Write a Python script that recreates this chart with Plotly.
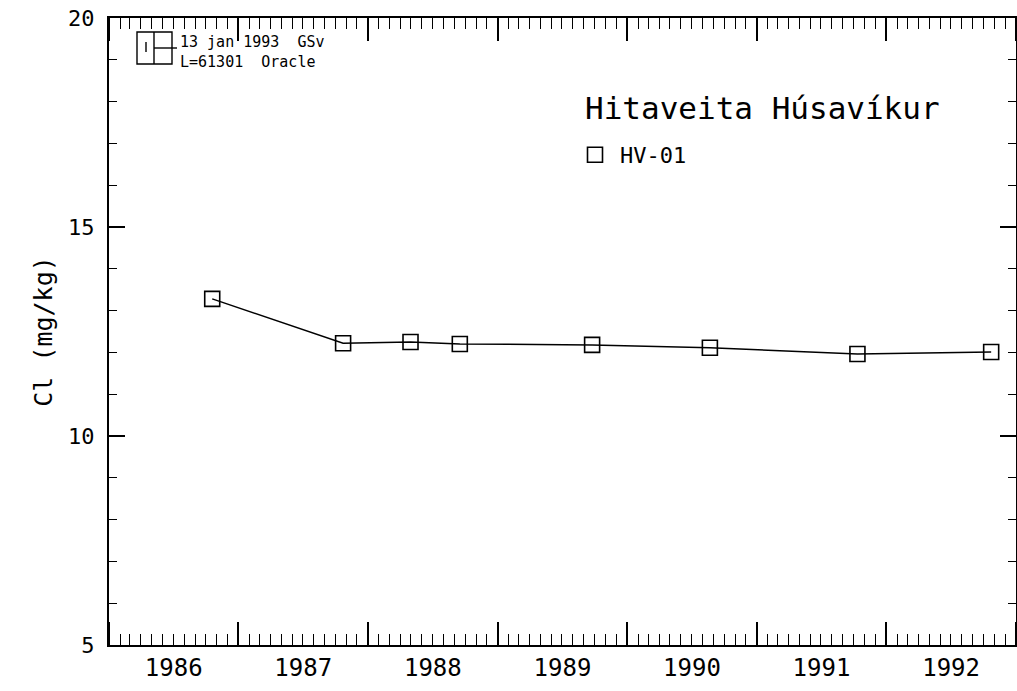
import plotly.graph_objects as go

# Data
sample_dates = ["1986-10-19", "1987-10-23", "1988-04-30", "1988-09-16",
                "1989-09-24", "1990-08-22", "1991-10-12", "1992-10-23"]
cl_values = [13.28, 12.22, 12.25, 12.20, 12.18, 12.11, 11.96, 12.01]
series_name = "HV-01"
plot_title = "Hitaveita Húsavíkur"
y_title = "Cl (mg/kg)"
stamp_line1 = "13 jan 1993  GSv"
stamp_line2 = "L=61301  Oracle"

FONT = "DejaVu Sans Mono"
L, R, T, B = 109, 1016, 18, 645
W, H = 1017, 691

fig = go.Figure()
fig.add_trace(go.Scatter(
    x=sample_dates, y=cl_values, mode="lines",
    line=dict(color="black", width=1.5), showlegend=False, hoverinfo="skip"))
fig.add_trace(go.Scatter(
    x=sample_dates, y=cl_values, mode="markers", name=series_name,
    marker=dict(symbol="square-open", size=15, color="black",
                line=dict(color="black", width=1.6)),
    showlegend=True))

fig.update_layout(
    width=W, height=H,
    margin=dict(l=L, r=W - R, t=T, b=H - B),
    paper_bgcolor="white", plot_bgcolor="white",
    font=dict(family=FONT, color="black", size=22),
    showlegend=True,
    legend=dict(x=(570 - L) / (R - L), y=(B - 155) / (B - T),
                xanchor="left", yanchor="middle",
                bgcolor="rgba(0,0,0,0)", font=dict(size=22, family=FONT),
                itemwidth=40, tracegroupgap=0),
    xaxis=dict(
        type="date", range=["1986-01-01", "1993-01-01"],
        dtick="M12", tickformat="%Y", ticklabelmode="period",
        ticks="inside", ticklen=23, tickwidth=1.5, tickcolor="black",
        showline=True, linecolor="black", linewidth=2, mirror="allticks",
        showgrid=False, zeroline=False, automargin=False,
        tickfont=dict(size=24, family=FONT),
        minor=dict(dtick="M1", ticks="inside", ticklen=11, tickwidth=1.3,
                   tickcolor="black", showgrid=False),
    ),
    yaxis=dict(
        range=[5, 20], dtick=5, tick0=0,
        ticks="inside", ticklen=16, tickwidth=1.5, tickcolor="black",
        showline=True, linecolor="black", linewidth=2, mirror="allticks",
        showgrid=False, zeroline=False, automargin=False,
        tickfont=dict(size=22, family=FONT),
        ticklabelstandoff=8,
        title=dict(text=y_title, font=dict(size=25, family=FONT), standoff=8),
        minor=dict(dtick=1, ticks="inside", ticklen=8, tickwidth=1.3,
                   tickcolor="black", showgrid=False),
    ),
)


def px(xp):
    return (xp - L) / (R - L)


def py(yp):
    return (B - yp) / (B - T)


fig.add_annotation(
    text=plot_title, xref="paper", yref="paper",
    x=px(583), y=py(108), xanchor="left", yanchor="middle",
    showarrow=False, font=dict(size=31, family=FONT, color="black"))

fig.add_annotation(
    text=stamp_line1 + "<br>" + stamp_line2, xref="paper", yref="paper",
    x=px(178), y=py(52), xanchor="left", yanchor="middle",
    align="left", showarrow=False,
    font=dict(size=15, family=FONT, color="black"))

# "OS" stamp logo (decorative)
fig.add_shape(type="rect", xref="paper", yref="paper",
              x0=px(137), x1=px(172), y0=py(64), y1=py(32),
              line=dict(color="black", width=1.4))
for (x0, y0, x1, y1) in [(154, 32, 154, 64), (146, 42, 146, 52),
                         (154, 48, 177, 48)]:
    fig.add_shape(type="line", xref="paper", yref="paper",
                  x0=px(x0), y0=py(y0), x1=px(x1), y1=py(y1),
                  line=dict(color="black", width=1.4))

fig.write_html("out.html", config={"displayModeBar": False},
               post_script="document.body.style.margin='0px';")
